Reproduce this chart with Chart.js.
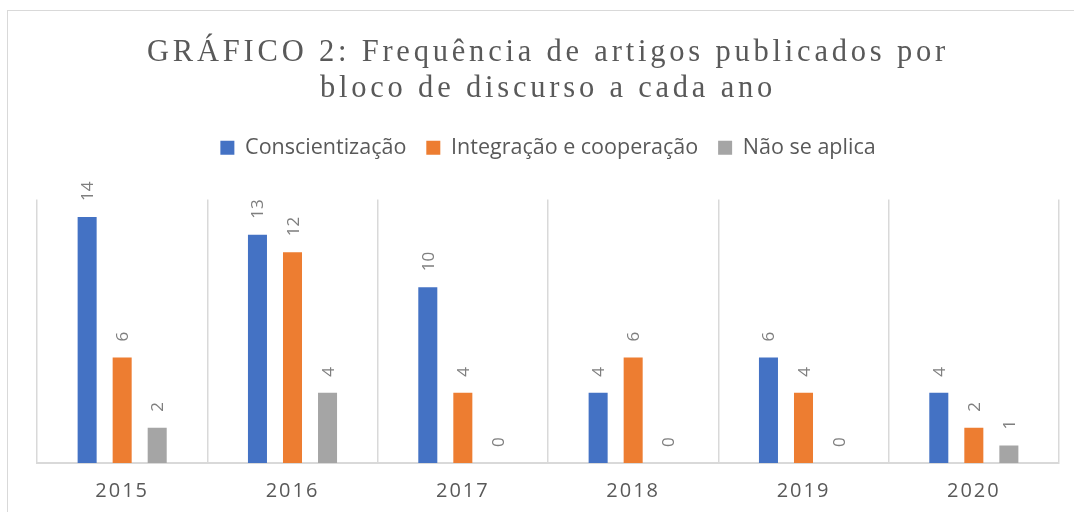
<!DOCTYPE html>
<html>
<head>
<meta charset="utf-8">
<script src="https://cdn.jsdelivr.net/npm/chart.js@4"></script>
<style>
  html, body { margin: 0; padding: 0; background: #fff; overflow: hidden; }
  #wrap { position: relative; width: 1074px; height: 512px; overflow: hidden; }
  #frame { position: absolute; left: 7px; top: 10px; width: 1200px; height: 600px; border: 1px solid #d9d9d9; }
  #title {
    position: absolute; left: 0; top: 33px; width: 1096px; text-align: center;
    font-family: "Liberation Serif", serif; font-size: 30.5px; line-height: 36px;
    letter-spacing: 3.8px; color: #595959;
  }
  canvas { position: absolute; left: 0; top: 0; }
</style>
</head>
<body>
<div id="wrap">
  <div id="frame"></div>
  <canvas id="chart" width="1074" height="519"></canvas>
  <div id="title">GRÁFICO 2: Frequência de artigos publicados por<br>bloco de discurso a cada ano</div>
</div>
<script>
const years = ['2015', '2016', '2017', '2018', '2019', '2020'];
const conscientizacao = [14, 13, 10, 4, 6, 4];
const integracao = [6, 12, 4, 6, 4, 2];
const naoSeAplica = [2, 4, 0, 0, 0, 1];

// rotated value labels above each bar
const barLabels = {
    id: 'barLabels',
    afterDatasetsDraw(chart) {
        const ctx = chart.ctx;
        ctx.save();
        ctx.font = '17px "Open Sans"';
        ctx.fillStyle = '#7f7f7f';
        ctx.textAlign = 'left';
        ctx.textBaseline = 'alphabetic';
        chart.data.datasets.forEach((ds, i) => {
            chart.getDatasetMeta(i).data.forEach((bar, j) => {
                ctx.save();
                ctx.translate(bar.x + 6, bar.y - 16);
                ctx.rotate(-Math.PI / 2);
                ctx.fillText(String(ds.data[j]), 0, 0);
                ctx.restore();
            });
        });
        ctx.restore();
        // x tick labels are drawn after this (ticks.z = 1), spaced out
        ctx.letterSpacing = '2px';
    },
    afterDraw(chart) {
        chart.ctx.letterSpacing = '0px';
    }
};

// extra room under the legend row
const legendGap = {
    id: 'legendGap',
    afterInit(chart) {
        const fit = chart.legend.fit;
        chart.legend.fit = function () {
            fit.call(this);
            this.height += 31;
        };
    }
};

new Chart(document.getElementById('chart'), {
    type: 'bar',
    data: {
        labels: years,
        datasets: [
            { label: 'Conscientização', data: conscientizacao, backgroundColor: '#4472c4' },
            { label: 'Integração e cooperação', data: integracao, backgroundColor: '#ed7d31' },
            { label: 'Não se aplica', data: naoSeAplica, backgroundColor: '#a5a5a5' }
        ]
    },
    options: {
        responsive: false,
        animation: false,
        categoryPercentage: 0.617,
        barPercentage: 0.543,
        layout: { padding: { top: 117, left: 37, right: 15, bottom: 0 } },
        plugins: {
            legend: {
                labels: {
                    font: { family: '"Open Sans"', size: 21.5 },
                    color: '#595959',
                    boxWidth: 14,
                    boxHeight: 14,
                    padding: 20
                }
            },
            tooltip: { enabled: false }
        },
        scales: {
            x: {
                grid: { color: '#d9d9d9', lineWidth: 1.5, offset: true, drawTicks: false },
                border: { color: '#d9d9d9', width: 2 },
                ticks: { font: { family: '"Open Sans"', size: 20 }, color: '#595959', padding: 16, z: 1 }
            },
            y: { display: false, min: 0, max: 15 }
        }
    },
    plugins: [barLabels, legendGap]
});
</script>
</body>
</html>
